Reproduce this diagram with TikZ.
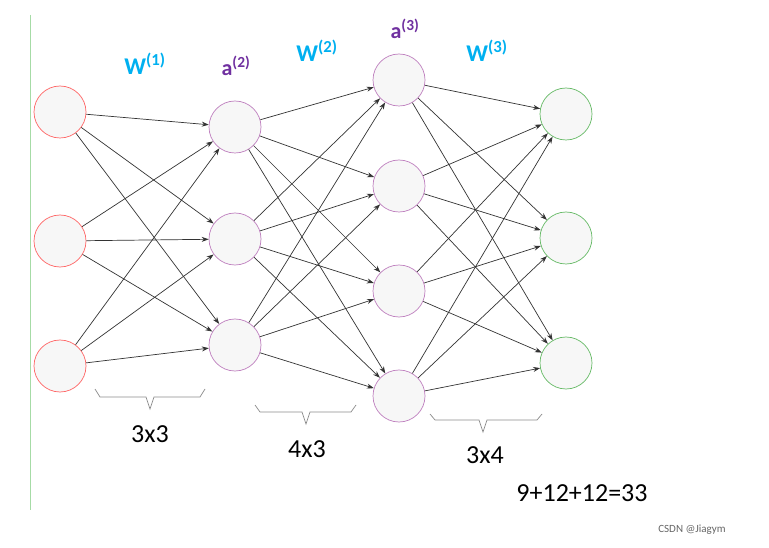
\documentclass[tikz,border=0pt]{standalone}
\usepackage{fontspec}
\setmainfont{Carlito}
\usetikzlibrary{arrows.meta}
\definecolor{wc}{RGB}{0,176,240}
\definecolor{ac}{RGB}{112,48,160}
\begin{document}
\begin{tikzpicture}[x=1pt,y=-1pt,
 neu/.style={circle,minimum size=52pt,inner sep=0,draw=#1,line width=0.7pt,fill=gray!6},
 con/.style={-{Stealth[length=7pt,width=5pt]},draw=black!80,line width=0.7pt},
 br/.style={draw=black!45,line width=0.7pt},
 wl/.style={text=wc,font=\fontsize{24}{26}\selectfont\bfseries},
 al/.style={text=ac,font=\fontsize{22}{24}\selectfont\bfseries},
 ml/.style={font=\fontsize{26}{28}\selectfont}]
\useasboundingbox (0,0) rectangle (769,548);
\fill[white] (0,0) rectangle (769,548);
\draw[green!60!black!35,line width=0.8pt] (30,15) -- (30,510);
\foreach \i/\y in {1/112,2/241,3/366} \node[neu=red!60] (a\i) at (60,\y) {};
\foreach \i/\y in {1/127,2/239,3/345} \node[neu=violet!50] (b\i) at (235,\y) {};
\foreach \i/\y in {1/80,2/186,3/291,4/396} \node[neu=violet!50] (c\i) at (399,\y) {};
\foreach \i/\y in {1/114,2/238,3/363} \node[neu=green!55!black!60] (d\i) at (566,\y) {};
\foreach \i in {1,2,3} \foreach \j in {1,2,3} \draw[con] (a\i) -- (b\j);
\foreach \i in {1,2,3} \foreach \j in {1,2,3,4} \draw[con] (b\i) -- (c\j);
\foreach \i in {1,2,3,4} \foreach \j in {1,2,3} \draw[con] (c\i) -- (d\j);
\node[wl] (w1) at (145,64) {W\textsuperscript{(1)}};
\node[al] (l2) at (236,66) {a\textsuperscript{(2)}};
\node[wl] (w2) at (317,51) {W\textsuperscript{(2)}};
\node[al] (l3) at (405,29) {a\textsuperscript{(3)}};
\node[wl] (w3) at (487,51) {W\textsuperscript{(3)}};
\draw[br] (95,389) -- (100,397) -- (146,397) -- (150,409) -- (154,397) -- (200,397) -- (205,389);
\draw[br] (255,405) -- (260,412) -- (302,412) -- (306,424) -- (310,412) -- (351,412) -- (356,405);
\draw[br] (430,414) -- (435,420) -- (479,420) -- (483,432) -- (487,420) -- (537,420) -- (542,414);
\node[ml] (t1) at (150,434) {3x3};
\node[ml] (t2) at (307,449) {4x3};
\node[ml] (t3) at (485,455) {3x4};
\node[ml] (t4) at (582,493) {9+12+12=33};
\node[text=black!60,font=\fontsize{11}{13}\selectfont] (cs) at (692,530) {CSDN @Jiagym};
\end{tikzpicture}
\end{document}
